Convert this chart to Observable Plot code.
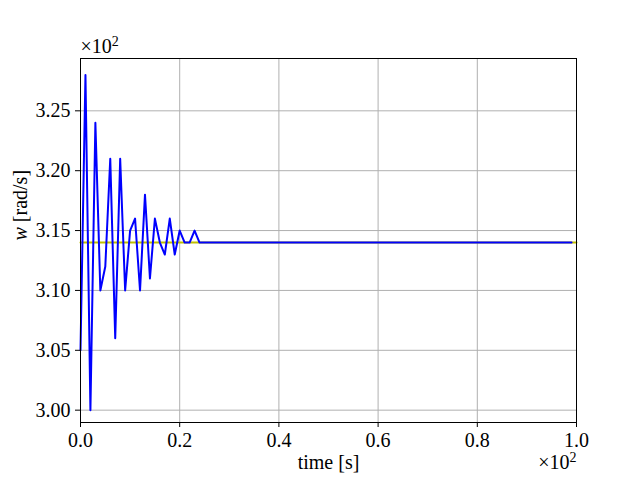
<!DOCTYPE html>
<html><head><meta charset="utf-8">
<script src="https://cdn.jsdelivr.net/npm/d3@7"></script>
<script src="https://cdn.jsdelivr.net/npm/@observablehq/plot@0.6"></script>
<style>body{margin:0;background:#fff}</style>
</head><body><div id="chart"></div>
<script>
// time [s]
const times = [0,1,2,3,4,5,6,7,8,9,10,11,12,13,14,15,16,17,18,19,20,21,22,23,24,25,26,27,28,29,
  30,31,32,33,34,35,36,37,38,39,40,41,42,43,44,45,46,47,48,49,50,51,52,53,54,55,56,57,58,59,
  60,61,62,63,64,65,66,67,68,69,70,71,72,73,74,75,76,77,78,79,80,81,82,83,84,85,86,87,88,89,
  90,91,92,93,94,95,96,97,98,99];
// w [rad/s]
const wValues = [305,328,300,324,310,312,321,306,321,310,315,316,310,318,311,316,314,313,316,313,
  315,314,314,315,314,314,314,314,314,314,314,314,314,314,314,314,314,314,314,314,
  314,314,314,314,314,314,314,314,314,314,314,314,314,314,314,314,314,314,314,314,
  314,314,314,314,314,314,314,314,314,314,314,314,314,314,314,314,314,314,314,314,
  314,314,314,314,314,314,314,314,314,314,314,314,314,314,314,314,314,314,314,314];
// reference (setpoint) line
const refTimes = [0, 100];
const refValues = [314, 314];
const xTicks = [0, 20, 40, 60, 80, 100];
const yTicks = [300, 305, 310, 315, 320, 325];
const xLabel = "time [s]";
const yLabel = "w [rad/s]";
const scaleNote = "×10^2";

const series = times.map((t, i) => ({t, w: wValues[i]}));
const ref = refTimes.map((t, i) => ({t, w: refValues[i]}));

const font = "'Liberation Serif', 'DejaVu Serif', serif";
const fs = 20;
const chart = Plot.plot({
  width: 640, height: 480,
  marginLeft: 80, marginRight: 64, marginTop: 58, marginBottom: 58,
  style: {fontFamily: font, fontSize: fs + "px", background: "#fff", color: "black"},
  x: {domain: [0, 100]},
  y: {domain: [298.97, 329.37]},
  marks: [
    Plot.gridX(xTicks, {stroke: "#b0b0b0", strokeOpacity: 1, strokeWidth: 1}),
    Plot.gridY(yTicks, {stroke: "#b0b0b0", strokeOpacity: 1, strokeWidth: 1}),
    Plot.line(ref, {x: "t", y: "w", stroke: "#bfbf00", strokeWidth: 2}),
    Plot.line(series, {x: "t", y: "w", stroke: "#0000ff", strokeWidth: 2}),
    Plot.frame({stroke: "black", strokeWidth: 1}),
    Plot.axisX(xTicks, {tickSize: 5, tickPadding: 5, tickFormat: d => (d / 100).toFixed(1), label: null, fontSize: fs}),
    Plot.axisY(yTicks, {tickSize: 5, tickPadding: 5, tickFormat: d => (d / 100).toFixed(2), label: null, fontSize: fs}),
    Plot.text([xLabel], {frameAnchor: "bottom", dy: 46, fontSize: fs, lineAnchor: "bottom"}),
    Plot.text([yLabel], {frameAnchor: "left", dx: -60, rotate: -90, fontSize: fs}),
    Plot.text([scaleNote], {frameAnchor: "top-left", dy: -6, textAnchor: "start", lineAnchor: "bottom", fontSize: fs}),
    Plot.text([scaleNote], {frameAnchor: "bottom-right", dy: 46, textAnchor: "end", lineAnchor: "bottom", fontSize: fs})
  ]
});
document.getElementById("chart").appendChild(chart);
d3.select(chart).selectAll("text").each(function() {
  const el = d3.select(this);
  if (this.textContent === yLabel) {
    el.text(null);
    el.append("tspan").attr("font-style", "italic").text("w");
    el.append("tspan").text(" [rad/s]");
  } else if (this.textContent === scaleNote) {
    el.text(null);
    el.append("tspan").text("×10");
    el.append("tspan").attr("dy", "-0.45em").attr("font-size", "14px").text("2");
  }
});
</script>
</body></html>
